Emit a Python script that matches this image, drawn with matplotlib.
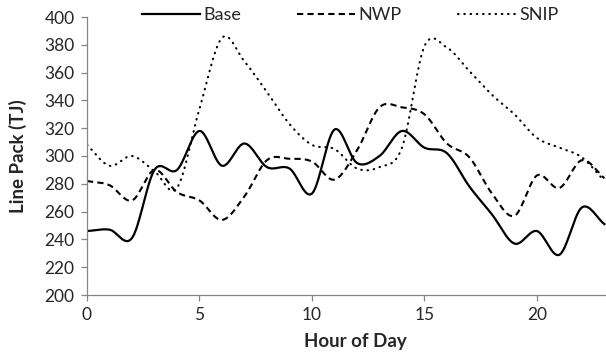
import numpy as np
import matplotlib
matplotlib.use("Agg")
import matplotlib.pyplot as plt

plt.rcParams["font.family"] = ["Lato", "DejaVu Sans"]

hours = list(range(24))
base = [246, 247, 241, 290, 290, 318, 293, 309, 292, 291, 273, 319,
        295, 300, 318, 306, 302, 278, 258, 237, 246, 229, 263, 251]
nwp = [282, 279, 268, 290, 274, 268, 254, 271, 297, 298, 296, 283,
       304, 335, 335, 330, 309, 299, 273, 257, 286, 277, 297, 284]
snip = [308, 293, 300, 289, 277, 334, 385, 368, 346, 323, 308, 305,
        291, 292, 306, 379, 378, 361, 344, 330, 313, 306, 299, 282]


def smooth(x, y, n=30):
    # catmull-rom, close to what excel does for "smoothed line"
    x = np.asarray(x, float)
    y = np.asarray(y, float)
    px = np.concatenate([[2 * x[0] - x[1]], x, [2 * x[-1] - x[-2]]])
    py = np.concatenate([[2 * y[0] - y[1]], y, [2 * y[-1] - y[-2]]])
    xs, ys = [], []
    t = np.linspace(0, 1, n, endpoint=False)
    for i in range(1, len(px) - 2):
        for p, out in ((px, xs), (py, ys)):
            p0, p1, p2, p3 = p[i - 1], p[i], p[i + 1], p[i + 2]
            out.extend(0.5 * (2 * p1 + (-p0 + p2) * t
                              + (2 * p0 - 5 * p1 + 4 * p2 - p3) * t ** 2
                              + (-p0 + 3 * p1 - 3 * p2 + p3) * t ** 3))
    xs.append(x[-1])
    ys.append(y[-1])
    return xs, ys


fig = plt.figure(figsize=(6.06, 3.57), dpi=100)
ax = fig.add_axes([87 / 606, 1 - 295 / 357, 1 - 87 / 606, 278 / 357])

ax.plot(*smooth(hours, base), color="black", lw=1.6, label="Base")
ax.plot(*smooth(hours, nwp), color="black", lw=1.5, linestyle=(0, (3, 2)), label="NWP")
ax.plot(*smooth(hours, snip), color="black", lw=1.5, linestyle=(0, (0.3, 2.7)),
        dash_capstyle="round", label="SNIP")

ax.set_xlim(0, 23.07)
ax.set_ylim(200, 400)
ax.set_xticks([0, 5, 10, 15, 20])
ax.set_yticks(range(200, 401, 20))

for s in ["top", "right"]:
    ax.spines[s].set_visible(False)
for s in ["left", "bottom"]:
    ax.spines[s].set_color("#868686")
    ax.spines[s].set_linewidth(0.9)
ax.tick_params(direction="out", length=4.5, width=0.9, color="#868686",
               labelsize=12.5, labelcolor="#262626", pad=4.5)

ax.set_xlabel("Hour of Day", fontsize=13.5, fontweight="bold", color="#262626")
ax.set_ylabel("Line Pack (TJ)", fontsize=13.5, fontweight="bold", color="#262626")
ax.xaxis.set_label_coords(0.518, -0.169)
ax.yaxis.set_label_coords(-0.133, 0.5)
ax.xaxis.label.set_va("center")
ax.yaxis.label.set_va("center")

ax.legend(ncol=3, loc="center", bbox_to_anchor=(350 / 606, 1 - 15 / 357),
          bbox_transform=fig.transFigure, frameon=False, fontsize=13,
          handlelength=3.2, handletextpad=0.2, columnspacing=3.1,
          labelcolor="#262626")

fig.savefig("out.png", dpi=100)
